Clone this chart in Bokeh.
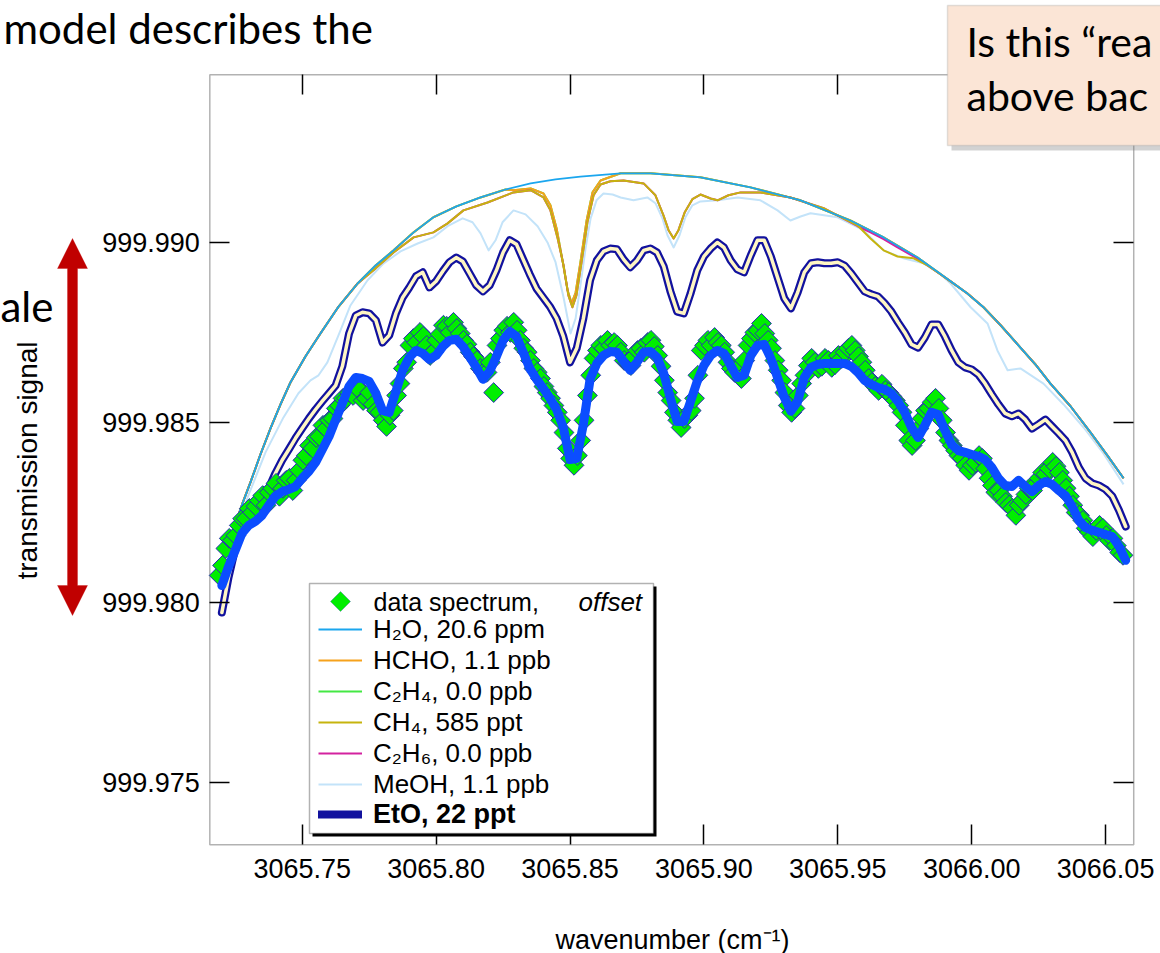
import numpy as np
from bokeh.plotting import figure
from bokeh.models import (Range1d, FixedTicker, PrintfTickFormatter, CustomJSTickFormatter,
                          LinearAxis, Legend, LegendItem, Label, BoxAnnotation, PolyAnnotation)
from bokeh.embed import file_html
from bokeh.resources import INLINE

# ---------------- spectral data (wavenumber in cm^-1, transmission signal) ----------------
x_ticks = [3065.75, 3065.80, 3065.85, 3065.90, 3065.95, 3066.00, 3066.05]
y_ticks = [999.975, 999.980, 999.985, 999.990]
x_limits = (3065.7155, 3066.0605)      # plotted wavenumber window
y_limits = (999.97326, 999.99465)      # plotted signal window

# H2O model (smooth envelope)
h2o_x = [3065.7199, 3065.7225, 3065.7251, 3065.7277, 3065.7307, 3065.7344, 3065.7382, 3065.7419,
         3065.7456, 3065.7512, 3065.7568, 3065.7636, 3065.7707, 3065.7774, 3065.7841, 3065.7916,
         3065.7990, 3065.8076, 3065.8166, 3065.8259, 3065.8353, 3065.8446, 3065.8539, 3065.8689,
         3065.8801, 3065.8987, 3065.9174, 3065.9361, 3065.9547, 3065.9671, 3065.9798, 3065.9921,
         3065.9984, 3066.0044, 3066.0108, 3066.0182, 3066.0238, 3066.0294, 3066.0369, 3066.0444,
         3066.0507, 3066.0567]
h2o_y = [999.98116, 999.98169, 999.98219, 999.98274, 999.98333, 999.98410, 999.98483, 999.98549,
         999.98610, 999.98682, 999.98746, 999.98821, 999.98885, 999.98935, 999.98977, 999.99027,
         999.99069, 999.99099, 999.99124, 999.99146, 999.99163, 999.99174, 999.99182, 999.99191,
         999.99191, 999.99180, 999.99152, 999.99116, 999.99060, 999.99013, 999.98957, 999.98891,
         999.98857, 999.98819, 999.98769, 999.98707, 999.98660, 999.98607, 999.98544, 999.98471,
         999.98407, 999.98344]

# HCHO model: follows the H2O envelope except around its line near 3065.85
hcho_band_x = [3065.8289, 3065.8353, 3065.8401, 3065.8427, 3065.8450, 3065.8472, 3065.8491,
               3065.8506, 3065.8521, 3065.8539, 3065.8562, 3065.8584, 3065.8614]
hcho_band_y = [999.99144, 999.99149, 999.99135, 999.99102, 999.99038, 999.98949, 999.98866,
               999.98830, 999.98860, 999.98944, 999.99060, 999.99138, 999.99171]

# CH4 model: departs from the envelope between 3065.777 and 3065.989
ch4_band_x = [3065.7774, 3065.7841, 3065.7916, 3065.7990, 3065.8043, 3065.8102, 3065.8192, 3065.8289,
              3065.8353, 3065.8401, 3065.8427, 3065.8453, 3065.8476, 3065.8494, 3065.8509, 3065.8524,
              3065.8543, 3065.8565, 3065.8588, 3065.8614, 3065.8651, 3065.8700, 3065.8775, 3065.8819,
              3065.8849, 3065.8868, 3065.8887, 3065.8905, 3065.8928, 3065.8957, 3065.8987, 3065.9025,
              3065.9051, 3065.9092, 3065.9137, 3065.9211, 3065.9323, 3065.9447, 3065.9574, 3065.9622,
              3065.9671, 3065.9723, 3065.9783, 3065.9835, 3065.9884]
ch4_band_y = [999.98927, 999.98971, 999.99013, 999.99027, 999.99052, 999.99088, 999.99110, 999.99138,
              999.99144, 999.99124, 999.99088, 999.99013, 999.98935, 999.98852, 999.98819, 999.98852,
              999.98944, 999.99055, 999.99130, 999.99160, 999.99169, 999.99171, 999.99163, 999.99130,
              999.99074, 999.99033, 999.99010, 999.99033, 999.99082, 999.99119, 999.99132, 999.99121,
              999.99116, 999.99130, 999.99138, 999.99138, 999.99124, 999.99094, 999.99046, 999.99010,
              999.98977, 999.98960, 999.98955, 999.98935, 999.98910]

# C2H6 model (0.0 ppb): CH4 trace, except where it stays on the envelope
c2h6_band_x = [3065.9574, 3065.9622, 3065.9671, 3065.9723, 3065.9783]
c2h6_band_y = [999.99044, 999.99027, 999.99008, 999.98985, 999.98960]

# MeOH model
meoh_x = [3065.7202, 3065.7251, 3065.7296, 3065.7363, 3065.7430, 3065.7486, 3065.7531, 3065.7561,
          3065.7594, 3065.7643, 3065.7680, 3065.7744, 3065.7804, 3065.7867, 3065.7931, 3065.7990,
          3065.8043, 3065.8099, 3065.8136, 3065.8166, 3065.8196, 3065.8222, 3065.8248, 3065.8289,
          3065.8334, 3065.8379, 3065.8416, 3065.8446, 3065.8476, 3065.8502, 3065.8521, 3065.8539,
          3065.8558, 3065.8577, 3065.8599, 3065.8625, 3065.8659, 3065.8689, 3065.8737, 3065.8789,
          3065.8819, 3065.8845, 3065.8864, 3065.8887, 3065.8909, 3065.8931, 3065.8957, 3065.8987,
          3065.9051, 3065.9126, 3065.9211, 3065.9275, 3065.9323, 3065.9361, 3065.9398, 3065.9499,
          3065.9596, 3065.9671, 3065.9745, 3065.9820, 3065.9876, 3065.9921, 3065.9996, 3066.0059,
          3066.0096, 3066.0134, 3066.0182, 3066.0268, 3066.0343, 3066.0418, 3066.0492, 3066.0567]
meoh_y = [999.98027, 999.98171, 999.98291, 999.98416, 999.98513, 999.98580, 999.98616, 999.98630,
          999.98666, 999.98755, 999.98824, 999.98894, 999.98941, 999.98974, 999.98996, 999.99013,
          999.99044, 999.99066, 999.99055, 999.99024, 999.98977, 999.99005, 999.99055, 999.99088,
          999.99077, 999.99044, 999.98999, 999.98944, 999.98846, 999.98746, 999.98788, 999.98880,
          999.98982, 999.99066, 999.99116, 999.99135, 999.99132, 999.99124, 999.99116, 999.99124,
          999.99108, 999.99066, 999.99019, 999.98985, 999.99019, 999.99069, 999.99102, 999.99113,
          999.99116, 999.99124, 999.99116, 999.99088, 999.99060, 999.99071, 999.99080, 999.99069,
          999.99033, 999.98977, 999.98955, 999.98941, 999.98916, 999.98885, 999.98819, 999.98774,
          999.98699, 999.98644, 999.98649, 999.98607, 999.98549, 999.98485, 999.98413, 999.98327]

# full model (incl. 22 ppt EtO) and the fit through the offset data, both on a
# uniform 0.0025 cm^-1 grid starting at 3065.7200
grid_x0, grid_dx = 3065.7200, 0.0025
eto_y = [
    999.97971, 999.98069, 999.98149, 999.98199, 999.98221, 999.98249, 999.98283, 999.98316, 999.98358, 999.98394,
    999.98424, 999.98455, 999.98483, 999.98510, 999.98535, 999.98558, 999.98580, 999.98602, 999.98655, 999.98746,
    999.98796, 999.98805, 999.98802, 999.98783, 999.98721, 999.98741, 999.98802, 999.98846, 999.98874, 999.98905,
    999.98916, 999.98874, 999.98891, 999.98919, 999.98944, 999.98957, 999.98946, 999.98913, 999.98880, 999.98863,
    999.98880, 999.98921, 999.98971, 999.99005, 999.98994, 999.98952, 999.98910, 999.98871, 999.98846, 999.98821,
    999.98788, 999.98738, 999.98666, 999.98705, 999.98788, 999.98894, 999.98949, 999.98974, 999.98982, 999.98980,
    999.98952, 999.98930, 999.98949, 999.98977, 999.98982, 999.98971, 999.98932, 999.98863, 999.98807, 999.98802,
    999.98857, 999.98921, 999.98960, 999.98982, 999.98999, 999.98985, 999.98949, 999.98924, 999.98916, 999.98963,
    999.99005, 999.99005, 999.98960, 999.98902, 999.98844, 999.98816, 999.98860, 999.98916, 999.98941, 999.98944,
    999.98941, 999.98941, 999.98944, 999.98935, 999.98913, 999.98888, 999.98863, 999.98855, 999.98849, 999.98830,
    999.98807, 999.98777, 999.98749, 999.98716, 999.98707, 999.98735, 999.98771, 999.98771, 999.98738, 999.98699,
    999.98666, 999.98652, 999.98646, 999.98632, 999.98607, 999.98577, 999.98549, 999.98524, 999.98516, 999.98524,
    999.98507, 999.98482, 999.98494, 999.98507, 999.98488, 999.98469, 999.98449, 999.98416, 999.98374, 999.98344,
    999.98330, 999.98324, 999.98313, 999.98294, 999.98255, 999.98210]
fit_y = [
    999.98046, 999.98099, 999.98144, 999.98191, 999.98213, 999.98224, 999.98241, 999.98269, 999.98294, 999.98307,
    999.98313, 999.98321, 999.98344, 999.98363, 999.98388, 999.98424, 999.98460, 999.98507, 999.98552, 999.98599,
    999.98624, 999.98621, 999.98613, 999.98580, 999.98532, 999.98527, 999.98585, 999.98644, 999.98680, 999.98699,
    999.98691, 999.98674, 999.98685, 999.98710, 999.98727, 999.98730, 999.98710, 999.98682, 999.98652, 999.98619,
    999.98641, 999.98682, 999.98727, 999.98752, 999.98738, 999.98694, 999.98649, 999.98619, 999.98594, 999.98566,
    999.98535, 999.98485, 999.98396, 999.98399, 999.98494, 999.98619, 999.98663, 999.98685, 999.98696, 999.98694,
    999.98669, 999.98644, 999.98666, 999.98694, 999.98696, 999.98680, 999.98635, 999.98566, 999.98502, 999.98502,
    999.98557, 999.98613, 999.98657, 999.98685, 999.98699, 999.98691, 999.98657, 999.98624, 999.98630, 999.98685,
    999.98713, 999.98716, 999.98677, 999.98624, 999.98569, 999.98530, 999.98557, 999.98624, 999.98652, 999.98660,
    999.98663, 999.98663, 999.98663, 999.98663, 999.98655, 999.98638, 999.98616, 999.98605, 999.98596, 999.98591,
    999.98580, 999.98557, 999.98527, 999.98485, 999.98457, 999.98491, 999.98527, 999.98521, 999.98477, 999.98438,
    999.98421, 999.98416, 999.98410, 999.98405, 999.98396, 999.98374, 999.98344, 999.98324, 999.98321, 999.98338,
    999.98321, 999.98307, 999.98324, 999.98335, 999.98327, 999.98310, 999.98296, 999.98266, 999.98227, 999.98207,
    999.98199, 999.98194, 999.98188, 999.98182, 999.98155, 999.98116]

# measured spectrum (offset), sampled every 0.00125 cm^-1 from 3065.7190
data_x0, data_dx = 3065.7190, 0.00125
data_y = [
    999.98074, 999.98102, 999.98149, 999.98177, 999.98171, 999.98185, 999.98213, 999.98232, 999.98232, 999.98260,
    999.98249, 999.98266, 999.98282, 999.98296, 999.98269, 999.98305, 999.98316, 999.98330, 999.98294, 999.98316,
    999.98338, 999.98344, 999.98310, 999.98338, 999.98366, 999.98394, 999.98407, 999.98435, 999.98427, 999.98457,
    999.98460, 999.98491, 999.98482, 999.98505, 999.98510, 999.98538, 999.98546, 999.98566, 999.98566, 999.98582,
    999.98574, 999.98599, 999.98588, 999.98560, 999.98566, 999.98582, 999.98549, 999.98532, 999.98527, 999.98505,
    999.98488, 999.98519, 999.98532, 999.98574, 999.98607, 999.98649, 999.98666, 999.98713, 999.98732, 999.98721,
    999.98749, 999.98738, 999.98713, 999.98685, 999.98694, 999.98727, 999.98744, 999.98769, 999.98766, 999.98749,
    999.98777, 999.98760, 999.98746, 999.98727, 999.98716, 999.98694, 999.98682, 999.98671, 999.98649, 999.98638,
    999.98638, 999.98666, 999.98582, 999.98713, 999.98732, 999.98755, 999.98766, 999.98749, 999.98777, 999.98755,
    999.98727, 999.98705, 999.98694, 999.98671, 999.98649, 999.98638, 999.98621, 999.98599, 999.98582, 999.98566,
    999.98546, 999.98527, 999.98505, 999.98471, 999.98427, 999.98399, 999.98380, 999.98407, 999.98449, 999.98505,
    999.98574, 999.98630, 999.98677, 999.98699, 999.98713, 999.98705, 999.98727, 999.98713, 999.98721, 999.98713,
    999.98694, 999.98671, 999.98666, 999.98657, 999.98682, 999.98699, 999.98705, 999.98694, 999.98721, 999.98727,
    999.98710, 999.98685, 999.98655, 999.98616, 999.98582, 999.98560, 999.98527, 999.98505, 999.98485, 999.98510,
    999.98519, 999.98532, 999.98566, 999.98630, 999.98699, 999.98713, 999.98727, 999.98713, 999.98735, 999.98721,
    999.98713, 999.98694, 999.98666, 999.98649, 999.98638, 999.98649, 999.98621, 999.98671, 999.98713, 999.98732,
    999.98749, 999.98755, 999.98774, 999.98746, 999.98727, 999.98705, 999.98671, 999.98644, 999.98616, 999.98582,
    999.98546, 999.98527, 999.98538, 999.98574, 999.98607, 999.98630, 999.98657, 999.98677, 999.98666, 999.98649,
    999.98655, 999.98677, 999.98671, 999.98652, 999.98660, 999.98685, 999.98677, 999.98694, 999.98705, 999.98713,
    999.98699, 999.98682, 999.98666, 999.98644, 999.98621, 999.98610, 999.98599, 999.98588, 999.98605, 999.98588,
    999.98582, 999.98571, 999.98560, 999.98546, 999.98527, 999.98491, 999.98449, 999.98435, 999.98449, 999.98482,
    999.98510, 999.98532, 999.98538, 999.98555, 999.98566, 999.98538, 999.98505, 999.98471, 999.98449, 999.98435,
    999.98421, 999.98407, 999.98399, 999.98380, 999.98366, 999.98380, 999.98388, 999.98407, 999.98399, 999.98371,
    999.98344, 999.98324, 999.98305, 999.98310, 999.98294, 999.98277, 999.98269, 999.98260, 999.98241, 999.98269,
    999.98282, 999.98299, 999.98316, 999.98310, 999.98327, 999.98344, 999.98360, 999.98355, 999.98371, 999.98388,
    999.98377, 999.98360, 999.98338, 999.98316, 999.98294, 999.98269, 999.98249, 999.98241, 999.98227, 999.98205,
    999.98194, 999.98182, 999.98199, 999.98213, 999.98205, 999.98185, 999.98171, 999.98177, 999.98157, 999.98138,
    999.98130]

legend_labels = ["data spectrum,", "H\u2082O, 20.6 ppm", "HCHO, 1.1 ppb", "C\u2082H\u2084, 0.0 ppb",
                 "CH\u2084, 585 ppt", "C\u2082H\u2086, 0.0 ppb", "MeOH, 1.1 ppb", "EtO, 22 ppt"]


# ---------------- assemble traces ----------------
def splice(base_x, base_y, band_x, band_y):
    """base trace with the points inside [band_x[0], band_x[-1]] replaced by the band"""
    lo, hi = band_x[0], band_x[-1]
    left = [(x, y) for x, y in zip(base_x, base_y) if x < lo]
    right = [(x, y) for x, y in zip(base_x, base_y) if x > hi]
    pts = left + list(zip(band_x, band_y)) + right
    return [p[0] for p in pts], [p[1] for p in pts]


hcho_x, hcho_y = splice(h2o_x, h2o_y, hcho_band_x, hcho_band_y)
c2h4_x, c2h4_y = hcho_x, hcho_y          # 0.0 ppb: identical to the HCHO trace
ch4_x, ch4_y = splice(h2o_x, h2o_y, ch4_band_x, ch4_band_y)
c2h6_x, c2h6_y = splice(ch4_x, ch4_y, c2h6_band_x, c2h6_band_y)
grid_x = [round(grid_x0 + i * grid_dx, 5) for i in range(len(eto_y))]
data_x = [round(data_x0 + i * data_dx, 5) for i in range(len(data_y))]

# ---------------- page geometry ----------------
W, H = 1160, 953
# the plotting frame spans the whole page; ranges chosen so the axis box lands
# at page pixels x 209..1133, y 74..844
x_page = (3065.63734, 3066.07050)
y_page = (999.97024, 999.99671)


def sy(py):
    """page pixel row (from top) -> screen units (from bottom)"""
    return H - py


p = figure(width=W, height=H, output_backend="svg", toolbar_location=None,
           x_range=Range1d(*x_page), y_range=Range1d(*y_page),
           min_border=0, min_border_left=0, min_border_right=0, min_border_top=0, min_border_bottom=0,
           background_fill_color="white", border_fill_color="white", outline_line_color=None)
p.grid.visible = False

TICK_FONT = "Liberation Sans"


def style_axis(ax, ticks, fmt, standoff):
    ax.ticker = FixedTicker(ticks=ticks)
    ax.formatter = fmt
    ax.major_tick_in = 20
    ax.major_tick_out = 0
    ax.minor_tick_line_color = None
    ax.major_tick_line_width = 1.5
    ax.major_tick_line_color = "black"
    ax.axis_line_color = None
    ax.major_label_text_font = TICK_FONT
    ax.major_label_text_font_size = "27px"
    ax.major_label_text_color = "black"
    ax.major_label_standoff = standoff


blank = CustomJSTickFormatter(code="return ''")
style_axis(p.xaxis[0], x_ticks, PrintfTickFormatter(format="%.2f"), 14)
p.xaxis[0].fixed_location = y_limits[0]
style_axis(p.yaxis[0], y_ticks, PrintfTickFormatter(format="%.3f"), 10)
p.yaxis[0].fixed_location = x_limits[0]

right_ax = LinearAxis()
style_axis(right_ax, y_ticks, blank, 0)
right_ax.fixed_location = x_limits[1]
p.add_layout(right_ax, "right")
top_ax = LinearAxis()
style_axis(top_ax, x_ticks, blank, 0)
top_ax.fixed_location = y_limits[1]
p.add_layout(top_ax, "above")

# axis box
p.add_layout(BoxAnnotation(left=x_limits[0], right=x_limits[1], bottom=y_limits[0], top=y_limits[1],
                           fill_alpha=0, line_color="black", line_width=1.5, level="underlay"))

# axis titles
p.add_layout(Label(x=672, y=sy(939), x_units="screen", y_units="screen", text="wavenumber (cm\u207b\u00b9)",
                   text_font=TICK_FONT, text_font_size="27px", text_align="center",
                   text_baseline="middle", text_color="black"))
p.add_layout(Label(x=27, y=sy(460), x_units="screen", y_units="screen", text="transmission signal",
                   angle=np.pi / 2, text_font=TICK_FONT, text_font_size="28px", text_align="center",
                   text_baseline="middle", text_color="black"))

# ---------------- model traces ----------------
meoh_r = p.line(meoh_x, meoh_y, line_color="#c3e3f9", line_width=2, line_join="round")
c2h4_r = p.line(c2h4_x, c2h4_y, line_color="#44e844", line_width=2, line_join="round")
hcho_r = p.line(hcho_x, hcho_y, line_color="#f6a21c", line_width=2, line_join="round")
c2h6_r = p.line(c2h6_x, c2h6_y, line_color="#d3229f", line_width=2, line_join="round")
ch4_r = p.line(ch4_x, ch4_y, line_color="#c6b40e", line_width=2, line_join="round")
h2o_r = p.line(h2o_x, h2o_y, line_color="#1ba6ee", line_width=1.8, line_join="round")

eto_r = p.line(grid_x, eto_y, line_color="#12129e", line_width=8, line_join="round", line_cap="round")
p.line(grid_x, eto_y, line_color="#fff6c4", line_width=3.5, line_join="round", line_cap="round")

data_r = p.scatter(data_x, data_y, marker="square", size=14, angle=np.pi / 4,
                   fill_color="#00ee00", line_color="#2b2bb8", line_width=1)
p.line(grid_x, fit_y, line_color="#0b4dff", line_width=9, line_join="round", line_cap="round")


# ---------------- legend ----------------
def screen_box(left, top, right, bottom, **kw):
    return BoxAnnotation(left=left, right=right, top=sy(top), bottom=sy(bottom),
                         left_units="screen", right_units="screen", top_units="screen",
                         bottom_units="screen", **kw)


p.add_layout(screen_box(312, 586, 656, 836, fill_color="black", fill_alpha=1, line_color=None))
p.add_layout(screen_box(309, 583, 653, 833, fill_color="white", fill_alpha=1, line_color="black",
                        line_width=1.5))

common = dict(border_line_color=None, background_fill_alpha=0, padding=0, margin=0, spacing=0,
              glyph_width=44, glyph_height=30, label_height=30, label_standoff=11,
              label_text_font=TICK_FONT, label_text_color="black")
line_renderers = [h2o_r, hcho_r, c2h4_r, ch4_r, c2h6_r, meoh_r]
legend_a = Legend(items=[LegendItem(label=l, renderers=[r]) for l, r in zip(legend_labels[1:7], line_renderers)],
                  location=(318, sy(799.5)), label_text_font_size="26px", **common)
legend_b = Legend(items=[LegendItem(label=legend_labels[7], renderers=[eto_r])],
                  location=(318, sy(829.5)), label_text_font_size="27px", label_text_font_style="bold",
                  **common)
p.add_layout(legend_a)
p.add_layout(legend_b)

# first legend row: the data marker and its label
p.add_layout(PolyAnnotation(xs=[340, 350, 340, 330], ys=[sy(591), sy(601), sy(611), sy(601)],
                            xs_units="screen", ys_units="screen",
                            fill_color="#00ee00", fill_alpha=1, line_color="#2b2bb8", line_width=1))
p.add_layout(Label(x=373, y=sy(601), x_units="screen", y_units="screen", text=legend_labels[0],
                   text_font=TICK_FONT, text_font_size="25px", text_baseline="middle", text_color="black"))
p.add_layout(Label(x=578, y=sy(601), x_units="screen", y_units="screen", text="offset",
                   text_font=TICK_FONT, text_font_size="26px", text_font_style="italic",
                   text_baseline="middle", text_color="black"))

# ---------------- slide annotations ----------------
SLIDE_FONT = "Lato"
p.add_layout(Label(x=3, y=sy(27), x_units="screen", y_units="screen", text="model describes the",
                   text_font=SLIDE_FONT, text_font_size="42px", text_baseline="alphabetic",
                   text_color="black"))
p.add_layout(Label(x=0, y=sy(305), x_units="screen", y_units="screen", text="ale",
                   text_font=SLIDE_FONT, text_font_size="42px", text_baseline="alphabetic",
                   text_color="black"))

# red double-headed scale arrow
arrow_xs = [72, 87, 77, 77, 87, 72, 57, 67, 67, 57]
arrow_ys = [238, 268, 268, 585, 585, 615, 585, 585, 268, 268]
p.add_layout(PolyAnnotation(xs=arrow_xs, ys=[sy(v) for v in arrow_ys], xs_units="screen", ys_units="screen",
                            fill_color="#c00000", fill_alpha=1, line_color="#c00000", line_width=1))

# call-out box
p.add_layout(screen_box(951, 9, 1175, 150, fill_color="#7f7f7f", fill_alpha=0.35, line_color=None))
p.add_layout(screen_box(947, 5, 1175, 145, fill_color="#fbe5d6", fill_alpha=1, line_color="#a0a0a0",
                        line_width=1.5))
p.add_layout(Label(x=966, y=sy(41), x_units="screen", y_units="screen", text="Is this \u201crea",
                   text_font=SLIDE_FONT, text_font_size="41px", text_baseline="alphabetic",
                   text_color="black"))
p.add_layout(Label(x=966, y=sy(95), x_units="screen", y_units="screen", text="above bac",
                   text_font=SLIDE_FONT, text_font_size="41px", text_baseline="alphabetic",
                   text_color="black"))

open("out.html", "w").write(file_html(p, INLINE))
